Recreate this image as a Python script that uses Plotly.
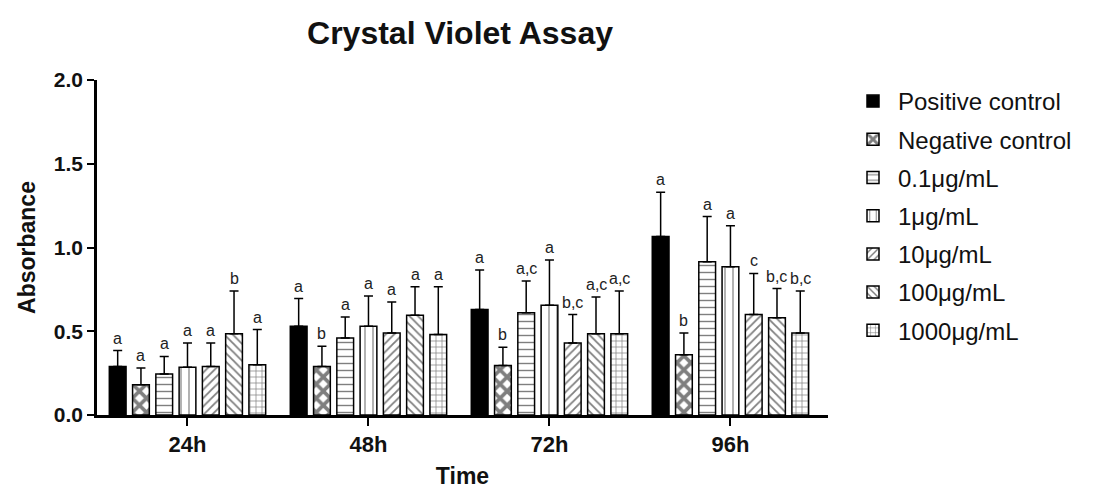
import plotly.graph_objects as go

times = ["24h", "48h", "72h", "96h"]
series_names = ["Positive control", "Negative control", "0.1\u03bcg/mL", "1\u03bcg/mL",
                "10\u03bcg/mL", "100\u03bcg/mL", "1000\u03bcg/mL"]

positive_control = [0.29, 0.53, 0.63, 1.065]
negative_control = [0.18, 0.29, 0.295, 0.36]
conc_0_1 = [0.245, 0.46, 0.61, 0.915]
conc_1 = [0.285, 0.53, 0.655, 0.885]
conc_10 = [0.29, 0.49, 0.43, 0.60]
conc_100 = [0.485, 0.595, 0.485, 0.58]
conc_1000 = [0.30, 0.48, 0.485, 0.49]

err_positive = [0.095, 0.165, 0.235, 0.265]
err_negative = [0.10, 0.12, 0.11, 0.13]
err_0_1 = [0.105, 0.125, 0.19, 0.27]
err_1 = [0.145, 0.18, 0.27, 0.245]
err_10 = [0.14, 0.185, 0.17, 0.245]
err_100 = [0.255, 0.17, 0.22, 0.175]
err_1000 = [0.21, 0.285, 0.255, 0.25]

labels_positive = ["a", "a", "a", "a"]
labels_negative = ["a", "b", "b", "b"]
labels_0_1 = ["a", "a", "a,c", "a"]
labels_1 = ["a", "a", "a", "a"]
labels_10 = ["a", "a", "b,c", "c"]
labels_100 = ["b", "a", "a,c", "b,c"]
labels_1000 = ["a", "a", "a,c", "b,c"]

values = [positive_control, negative_control, conc_0_1, conc_1, conc_10, conc_100, conc_1000]
errors = [err_positive, err_negative, err_0_1, err_1, err_10, err_100, err_1000]
labels = [labels_positive, labels_negative, labels_0_1, labels_1, labels_10, labels_100, labels_1000]

patterns = [
    dict(shape=""),
    dict(shape="x", size=10, solidity=0.6, fgcolor="black", bgcolor="white"),
    dict(shape="-", size=7, solidity=0.2, fgcolor="black", bgcolor="white"),
    dict(shape="|", size=8, solidity=0.15, fgcolor="black", bgcolor="white"),
    dict(shape="/", size=6, solidity=0.3, fgcolor="black", bgcolor="white"),
    dict(shape="\\", size=6, solidity=0.3, fgcolor="black", bgcolor="white"),
    dict(shape="+", size=6, solidity=0.22, fgcolor="black", bgcolor="white"),
]
fills = ["black"] + ["white"] * 6

FONT = "Arial, Liberation Sans, sans-serif"

fig = go.Figure()
for i, name in enumerate(series_names):
    fig.add_trace(go.Bar(
        x=times, y=values[i], name=name,
        marker=dict(color=fills[i], line=dict(color="black", width=1.5), pattern=patterns[i]),
        error_y=dict(type="data", symmetric=False, array=errors[i],
                     arrayminus=[0] * len(times), color="black", thickness=1.5, width=4.5),
        legendgroup=name,
    ))

n = len(series_names)
bargap = 0.1
slot = (1 - bargap) / n
annotations = []
for i in range(n):
    for g in range(len(times)):
        annotations.append(dict(
            x=g + (i - (n - 1) / 2) * slot, y=values[i][g] + errors[i][g],
            xref="x", yref="y", text=labels[i][g], showarrow=False,
            yanchor="bottom", yshift=2,
            font=dict(family=FONT, size=16, color="#222"),
        ))

fig.update_layout(
    width=1099, height=490,
    paper_bgcolor="white", plot_bgcolor="white",
    margin=dict(l=97, r=271, t=80, b=75, autoexpand=False),
    barmode="group", bargap=bargap, bargroupgap=0.28,
    font=dict(family=FONT, color="black"),
    title=dict(text="<b>Crystal Violet Assay</b>", x=460 / 1099, xanchor="center",
               y=1 - 33 / 490, yanchor="middle", font=dict(size=32, family=FONT, color="#111")),
    annotations=annotations,
    legend=dict(x=848 / 1099, xref="container", y=1 - 79 / 490, yref="container",
                xanchor="left", yanchor="top", font=dict(size=24, family=FONT, color="#111"),
                traceorder="grouped", tracegroupgap=4, bgcolor="rgba(0,0,0,0)",
                itemwidth=40, maxheight=1),
    showlegend=True,
)
fig.update_xaxes(
    range=[-0.5, 3.539],
    showline=True, linecolor="black", linewidth=2.5, automargin=False,
    ticks="outside", ticklen=8, tickwidth=2, tickcolor="black",
    tickfont=dict(size=22, family=FONT, weight="bold", color="#111"),
    title=dict(text="<b>Time</b>", font=dict(size=23, family=FONT, color="#111"), standoff=12),
    showgrid=False, zeroline=False,
)
fig.update_yaxes(
    range=[0, 2], tickvals=[0, 0.5, 1.0, 1.5, 2.0], ticktext=["0.0", "0.5", "1.0", "1.5", "2.0"],
    showline=True, linecolor="black", linewidth=2.5, automargin=False,
    ticks="outside", ticklen=7, tickwidth=2, tickcolor="black",
    tickfont=dict(size=21, family=FONT, weight="bold", color="#111"),
    title=dict(text="<b>Absorbance</b>", font=dict(size=23, family=FONT, color="#111"), standoff=12),
    showgrid=False, zeroline=False,
)

fig.write_html("out.html", config={"displayModeBar": False},
               post_script="document.body.style.margin='0';")
